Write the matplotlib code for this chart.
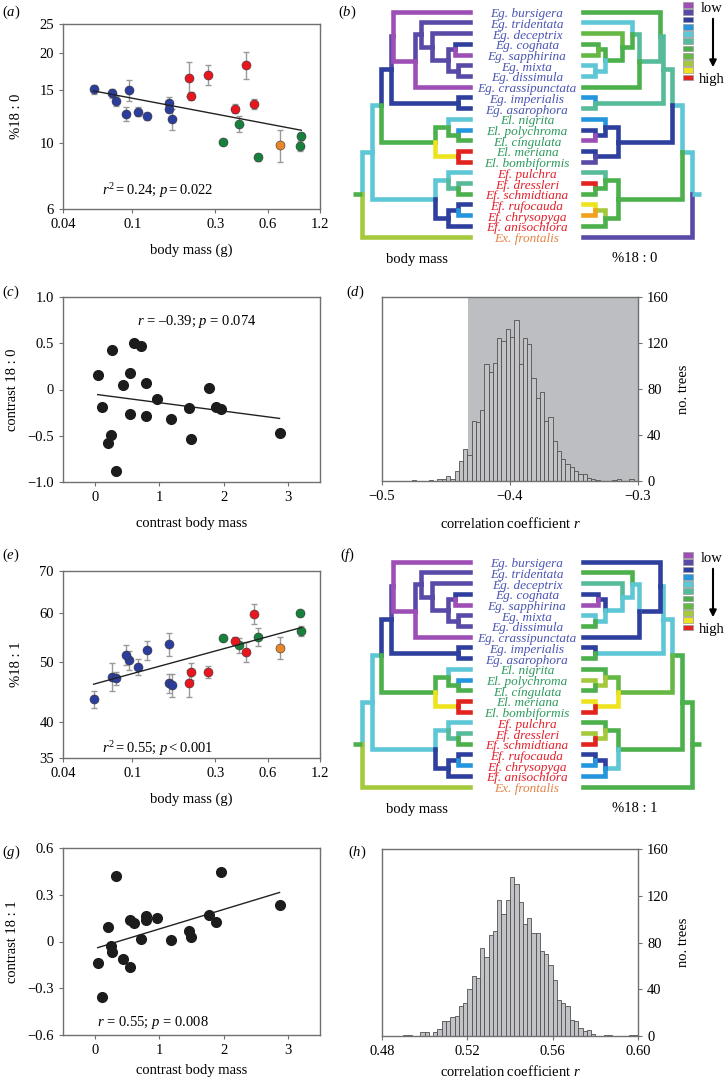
import numpy as np
import matplotlib
matplotlib.use('Agg')
import matplotlib.pyplot as plt
from matplotlib.ticker import NullLocator
from matplotlib.patches import Rectangle

plt.rcParams['font.family'] = ['Liberation Serif', 'DejaVu Serif']
plt.rcParams['mathtext.fontset'] = 'custom'
plt.rcParams['mathtext.rm'] = 'Liberation Serif'
plt.rcParams['mathtext.it'] = 'Liberation Serif:italic'
plt.rcParams['font.size'] = 10.5

# ---------------- data ----------------
groups = ['Eg'] * 10 + ['El'] * 5 + ['Ef'] * 6 + ['Ex']
body_mass = [0.060, 0.0766, 0.0811, 0.0960, 0.0918, 0.1086, 0.1208, 0.163, 0.162, 0.1686,
             0.332, 0.412, 0.525, 0.937, 0.920,
             0.211, 0.218, 0.274, 0.450, 0.389, 0.500,
             0.706]
pct_180 = [15.1, 14.65, 13.8, 15.0, 12.5, 12.7, 12.25, 13.6, 12.95, 12.0,
           10.07, 11.6, 8.95, 10.5, 9.77,
           16.5, 14.4, 16.9, 18.2, 13.0, 13.5,
           9.8]
err_180 = [0.5, 0.55, 0.5, 1.2, 0.7, 0.45, 0.35, 0.6, 0.3, 1.0,
           0.15, 0.7, 0.25, 0.3, 0.4,
           2.1, 0.45, 1.3, 1.9, 0.45, 0.55,
           1.2]
pct_181 = [43.5, 47.3, 47.0, 50.3, 51.3, 49.1, 52.2, 53.4, 46.2, 45.8,
           54.7, 53.2, 54.9, 56.1, 59.8,
           46.2, 48.2, 48.2, 51.9, 54.1, 59.7,
           52.7]
err_181 = [1.4, 2.5, 1.2, 1.8, 1.9, 1.5, 1.8, 2.3, 1.6, 1.9,
           0.5, 1.5, 1.8, 1.0, 0.5,
           2.3, 1.5, 1.1, 2.0, 0.8, 2.2,
           2.1]
group_colors = {'Eg': '#2c3d9c', 'El': '#17803d', 'Ef': '#e8171f', 'Ex': '#e8872a'}

contrast_mass = [0.04, 0.10, 0.26, 0.24, 0.20, 0.32, 0.44, 0.55, 0.54, 0.60, 0.72,
                 0.79, 0.79, 0.97, 1.18, 1.46, 1.49, 1.78, 1.88, 1.96, 2.87]
contrast_180 = [0.153, -0.19, 0.43, -0.49, -0.58, -0.885, 0.049, 0.178, -0.26, 0.503, 0.474,
                0.07, -0.283, -0.10, -0.32, -0.196, -0.53, 0.02, -0.19, -0.214, -0.467]
contrast_181 = [-0.135, -0.354, -0.066, -0.026, 0.09, 0.422, -0.114, -0.165, 0.139, 0.118, 0.015,
                0.165, 0.139, 0.154, 0.011, 0.069, 0.028, 0.171, 0.122, 0.444, 0.236]

# correlation coefficients over trees (60 bins each)
r180_range = (-0.5, -0.3)
r180_counts = [0, 0, 0, 0, 0, 0, 0, 1, 0, 0, 0, 1, 0, 2, 2, 4, 2, 9, 17, 28,
               23, 52, 51, 62, 102, 95, 103, 124, 122, 132, 125, 140, 102, 124, 119, 90, 72, 77, 52, 56,
               35, 26, 19, 15, 12, 9, 6, 6, 3, 2, 1, 0, 0, 0, 1, 2, 0, 0, 2, 0]
r180_shade = -0.4325
r181_range = (0.48, 0.60)
r181_counts = [0, 0, 0, 0, 0, 1, 1, 0, 0, 3, 3, 0, 3, 6, 13, 13, 16, 17, 26, 28,
               40, 51, 50, 75, 68, 86, 90, 116, 104, 116, 136, 130, 115, 96, 101, 88, 88, 73, 70, 61,
               48, 31, 28, 26, 14, 13, 7, 4, 5, 2, 0, 0, 1, 1, 0, 0, 0, 0, 1, 1]

# phylogeny
tips = ['Eg. bursigera', 'Eg. tridentata', 'Eg. deceptrix', 'Eg. cognata', 'Eg. sapphirina',
        'Eg. mixta', 'Eg. dissimula', 'Eg. crassipunctata', 'Eg. imperialis', 'Eg. asarophora',
        'El. nigrita', 'El. polychroma', 'El. cingulata', 'El. meriana', 'El. bombiformis',
        'Ef. pulchra', 'Ef. dressleri', 'Ef. schmidtiana', 'Ef. rufocauda', 'Ef. chrysopyga',
        'Ef. anisochlora', 'Ex. frontalis']
label_colors = {'Eg': '#4a55b3', 'El': '#2c9a5c', 'Ef': '#e2202b', 'Ex': '#e58246'}
# node: (child, child, depth from root)
nodes = {
    'root': ('ingroup', 'Ex. frontalis', 0.0),
    'ingroup': ('EgEl', 'Ef', 0.09),
    'EgEl': ('Eg', 'El', 0.18),
    'Eg': ('EgA', 'EgI', 0.265),
    'EgA': ('Eg. bursigera', 'EgB', 0.29),
    'EgB': ('EgC', 'Eg. crassipunctata', 0.49),
    'EgC': ('Eg. tridentata', 'EgD', 0.55),
    'EgD': ('Eg. deceptrix', 'EgE', 0.645),
    'EgE': ('EgF', 'EgG', 0.80),
    'EgF': ('Eg. cognata', 'Eg. sapphirina', 0.86),
    'EgG': ('Eg. mixta', 'Eg. dissimula', 0.89),
    'EgI': ('Eg. imperialis', 'Eg. asarophora', 0.89),
    'El': ('ElA', 'ElC', 0.676),
    'ElA': ('El. nigrita', 'ElB', 0.80),
    'ElB': ('El. polychroma', 'El. cingulata', 0.89),
    'ElC': ('El. meriana', 'El. bombiformis', 0.89),
    'Ef': ('EfA', 'EfC', 0.676),
    'EfA': ('Ef. pulchra', 'EfB', 0.80),
    'EfB': ('Ef. dressleri', 'Ef. schmidtiana', 0.89),
    'EfC': ('EfD', 'Ef. anisochlora', 0.80),
    'EfD': ('Ef. rufocauda', 'Ef. chrysopyga', 0.89),
}
palette = ['#9d4fb5', '#5a4aa8', '#2e3f9e', '#2596de', '#5ec7d6', '#56bb9a',
           '#4cb04c', '#66b845', '#a5c93d', '#eee31f', '#e2231f', '#f0a11e']
mass_colors = {
    'stub': 6, 'Ex. frontalis': 8, 'ingroup': 4, 'EgEl': 4, 'Ef': 4, 'Eg': 2, 'El': 6,
    'EgA': 1, 'Eg. bursigera': 0, 'EgB': 0, 'Eg. crassipunctata': 0, 'EgC': 1, 'Eg. tridentata': 1,
    'EgD': 1, 'Eg. deceptrix': 1, 'EgE': 1, 'EgF': 1, 'Eg. cognata': 2, 'Eg. sapphirina': 0,
    'EgG': 1, 'Eg. mixta': 1, 'Eg. dissimula': 1, 'EgI': 2, 'Eg. imperialis': 2, 'Eg. asarophora': 2,
    'ElA': 6, 'El. nigrita': 4, 'ElB': 6, 'El. polychroma': 3, 'El. cingulata': 6,
    'ElC': 9, 'El. meriana': 10, 'El. bombiformis': 10,
    'EfA': 4, 'Ef. pulchra': 4, 'EfB': 5, 'Ef. dressleri': 5, 'Ef. schmidtiana': 6,
    'EfC': 2, 'EfD': 2, 'Ef. rufocauda': 2, 'Ef. chrysopyga': 3, 'Ef. anisochlora': 2,
}
c180_colors = {
    'stub': 4, 'Ex. frontalis': 1, 'ingroup': 4, 'EgEl': 4, 'Ef': 6, 'Eg': 5, 'El': 2,
    'EgA': 5, 'Eg. bursigera': 6, 'EgB': 5, 'Eg. crassipunctata': 6, 'EgC': 5, 'Eg. tridentata': 4,
    'EgD': 6, 'Eg. deceptrix': 7, 'EgE': 6, 'EgF': 6, 'Eg. cognata': 6, 'Eg. sapphirina': 7,
    'EgG': 4, 'Eg. mixta': 4, 'Eg. dissimula': 4, 'EgI': 5, 'Eg. imperialis': 3, 'Eg. asarophora': 5,
    'ElA': 2, 'El. nigrita': 3, 'ElB': 2, 'El. polychroma': 2, 'El. cingulata': 0,
    'ElC': 2, 'El. meriana': 2, 'El. bombiformis': 1,
    'EfA': 6, 'Ef. pulchra': 5, 'EfB': 6, 'Ef. dressleri': 10, 'Ef. schmidtiana': 6,
    'EfC': 6, 'EfD': 8, 'Ef. rufocauda': 9, 'Ef. chrysopyga': 11, 'Ef. anisochlora': 6,
}
c181_colors = {
    'stub': 6, 'Ex. frontalis': 6, 'ingroup': 6, 'EgEl': 6, 'Ef': 6, 'Eg': 4, 'El': 7,
    'EgA': 4, 'Eg. bursigera': 2, 'EgB': 2, 'Eg. crassipunctata': 2, 'EgC': 4, 'Eg. tridentata': 6,
    'EgD': 4, 'Eg. deceptrix': 5, 'EgE': 4, 'EgF': 2, 'Eg. cognata': 2, 'Eg. sapphirina': 0,
    'EgG': 4, 'Eg. mixta': 4, 'Eg. dissimula': 6, 'EgI': 4, 'Eg. imperialis': 2, 'Eg. asarophora': 6,
    'ElA': 7, 'El. nigrita': 6, 'ElB': 8, 'El. polychroma': 8, 'El. cingulata': 6,
    'ElC': 9, 'El. meriana': 9, 'El. bombiformis': 10,
    'EfA': 6, 'Ef. pulchra': 6, 'EfB': 8, 'Ef. dressleri': 8, 'Ef. schmidtiana': 10,
    'EfC': 4, 'EfD': 2, 'Ef. rufocauda': 2, 'Ef. chrysopyga': 3, 'Ef. anisochlora': 3,
}

# ---------------- figure ----------------
W, H = 727, 1082
fig = plt.figure(figsize=(W / 100, H / 100), dpi=100)
SPINE = '#707070'


def add_ax(l, t, r, b):
    return fig.add_axes([l / W, 1 - b / H, (r - l) / W, (b - t) / H])


def style(ax):
    for s in ax.spines.values():
        s.set_color(SPINE)
        s.set_linewidth(1.0)
    ax.tick_params(direction='out', length=3, color=SPINE, labelsize=10.5)


def panel_label(x, y, letter):
    fig.text(x / W, 1 - y / H, r'$(%s)$' % letter, fontsize=10.5, va='center', ha='left')


def scatter_panel(ax, yvals, yerr, yticks, ylim, ylabel, stat, stat_y):
    style(ax)
    ax.set_xscale('log')
    ax.set_yscale('log')
    x = np.array(body_mass)
    y = np.array(yvals)
    for xi, yi, ei, g in zip(x, y, yerr, groups):
        ax.errorbar(xi, yi, yerr=ei, fmt='none', ecolor='#9a9a9a', elinewidth=1,
                    capsize=2, capthick=1, zorder=2)
        ax.plot(xi, yi, 'o', ms=6.5, color=group_colors[g], mec='#333333', mew=0.4, zorder=3)
    k, b = np.polyfit(np.log10(x), np.log10(y), 1)
    xs = np.array([x.min(), x.max()])
    ax.plot(xs, 10 ** (k * np.log10(xs) + b), color='#222222', lw=1, zorder=4)
    ax.set_xlim(0.04, 1.2)
    ax.set_ylim(*ylim)
    ax.set_xticks([0.04, 0.1, 0.3, 0.6, 1.2])
    ax.set_xticklabels(['0.04', '0.1', '0.3', '0.6', '1.2'])
    ax.set_yticks(yticks)
    ax.set_yticklabels([str(v) for v in yticks])
    ax.xaxis.set_minor_locator(NullLocator())
    ax.yaxis.set_minor_locator(NullLocator())
    ax.set_xlabel('body mass (g)', labelpad=9)
    ax.set_ylabel(ylabel, labelpad=12)
    ax.text(0.15, stat_y, stat, transform=ax.transAxes, fontsize=10.5, va='center')


def contrast_panel(ax, yvals, yticks, ylabels, ylim, ylabel, stat, sx, sy, ha, pad):
    style(ax)
    x = np.array(contrast_mass)
    y = np.array(yvals)
    ax.plot(x, y, 'o', ms=7, color='#1c1c1c', zorder=3)
    k, b = np.polyfit(x, y, 1)
    xs = np.array([x.min(), x.max()])
    ax.plot(xs, k * xs + b, color='#222222', lw=1, zorder=2)
    ax.set_xlim(-0.5, 3.5)
    ax.set_ylim(*ylim)
    ax.set_xticks([0, 1, 2, 3])
    ax.set_xticklabels(['0', '1', '2', '3'])
    ax.set_yticks(yticks)
    ax.set_yticklabels(ylabels)
    ax.set_xlabel('contrast body mass', labelpad=pad)
    ax.set_ylabel(ylabel, labelpad=6)
    ax.text(sx, sy, stat, transform=ax.transAxes, fontsize=10.5, va='center', ha=ha)


def hist_panel(ax, counts, rng, xticks, xlabels, pad, shade=None):
    style(ax)
    edges = np.linspace(rng[0], rng[1], len(counts) + 1)
    if shade is not None:
        ax.axvspan(shade, rng[1], color='#bdbec1', zorder=0, lw=0)
    ax.bar(edges[:-1], counts, width=edges[1] - edges[0], align='edge',
           color='#c2c3c6', edgecolor='#505050', linewidth=0.6, zorder=2)
    ax.set_xlim(*rng)
    ax.set_ylim(0, 160)
    ax.set_xticks(xticks)
    ax.set_xticklabels(xlabels)
    ax.set_yticks([0, 40, 80, 120, 160])
    ax.yaxis.tick_right()
    ax.yaxis.set_label_position('right')
    ax.set_ylabel('no. trees', labelpad=6)
    ax.set_xlabel('correlation coefficient $r$', labelpad=pad)


def node_y(name, tip_y):
    if name in nodes:
        a, b, _ = nodes[name]
        return 0.5 * (node_y(a, tip_y) + node_y(b, tip_y))
    return tip_y[name]


def node_d(name):
    return nodes[name][2] if name in nodes else 1.0


def draw_tree(ax, cols, x_root, x_tip):
    tip_y = {t: 11.7 + i * 10.71 for i, t in enumerate(tips)}

    def px(d):
        return x_root + d * (x_tip - x_root)

    for parent, (a, b, d) in nodes.items():
        py = node_y(parent, tip_y)
        for child in (a, b):
            cy = node_y(child, tip_y)
            ax.plot([px(d), px(d), px(node_d(child))], [py, cy, cy],
                    color=palette[cols[child]], lw=3.3, solid_capstyle='projecting',
                    solid_joinstyle='miter', zorder=2)
    ry = node_y('root', tip_y)
    stub = -9 if x_tip > x_root else 9
    ax.plot([x_root + stub, x_root], [ry, ry], color=palette[cols['stub']], lw=3.3,
            solid_capstyle='butt', zorder=2)


def tree_panel(top, right_cols, right_label):
    ax = add_ax(340, top, 727, top + 275)
    ax.set_xlim(340, 727)
    ax.set_ylim(275, 0)
    ax.axis('off')
    draw_tree(ax, mass_colors, 362, 470)
    draw_tree(ax, right_cols, 692, 583)
    for i, t in enumerate(tips):
        ax.text(527, 11.7 + i * 10.71 + 2.5, t, ha='center', va='center', fontsize=9.5,
                style='italic', color=label_colors[t[:2]])
    ax.text(417, 259, 'body mass', ha='center', va='center', fontsize=10.5)
    ax.text(635, 259, right_label, ha='center', va='center', fontsize=10.5)
    for k in range(11):
        yc = 5 + k * 7.25
        ax.add_patch(Rectangle((683, yc - 2.8), 10, 5.6, facecolor=palette[k],
                               edgecolor='#999999', lw=0.5, zorder=3))
    ax.text(712, 8, 'low', ha='center', va='center', fontsize=10.5)
    ax.text(712, 80, 'high', ha='center', va='center', fontsize=10.5)
    ax.annotate('', xy=(713, 70), xytext=(713, 16),
                arrowprops=dict(arrowstyle='-|>', color='black', lw=1.5, mutation_scale=10))


# (a)
ax_a = add_ax(63, 24, 320, 209)
scatter_panel(ax_a, pct_180, err_180, [6, 10, 15, 20, 25], (6, 25), '%18 : 0',
              r'$r^2 = 0.24$; $p = 0.022$', 0.1)
# (b)
tree_panel(0, c180_colors, '%18 : 0')
# (c)
ax_c = add_ax(63, 297, 320, 482)
contrast_panel(ax_c, contrast_180, [-1, -0.5, 0, 0.5, 1], ['\u22121.0', '\u22120.5', '0', '0.5', '1.0'],
               (-1, 1), 'contrast 18 : 0', '$r$ = \u20130.39; $p$ = 0.074', 0.52, 0.87, 'center', 9)
# (d)
ax_d = add_ax(382, 297, 638, 481)
hist_panel(ax_d, r180_counts, r180_range, [-0.5, -0.4, -0.3],
           ['\u22120.5', '\u22120.4', '\u22120.3'], 9, shade=r180_shade)
# (e)
ax_e = add_ax(63, 571, 320, 758)
scatter_panel(ax_e, pct_181, err_181, [35, 40, 50, 60, 70], (35, 70), '%18 : 1',
              r'$r^2 = 0.55$; $p < 0.001$', 0.05)
# (f)
tree_panel(550, c181_colors, '%18 : 1')
# (g)
ax_g = add_ax(63, 848, 320, 1035)
contrast_panel(ax_g, contrast_181, [-0.6, -0.3, 0, 0.3, 0.6], ['\u22120.6', '\u22120.3', '0', '0.3', '0.6'],
               (-0.6, 0.6), 'contrast 18 : 1', '$r$ = 0.55; $p$ = 0.008', 0.35, 0.065, 'center', 5)
# (h)
ax_h = add_ax(382, 849, 638, 1036)
hist_panel(ax_h, r181_counts, r181_range, [0.48, 0.52, 0.56, 0.60],
           ['0.48', '0.52', '0.56', '0.60'], 4)

for x, y, letter in [(2, 12, 'a'), (338, 12, 'b'), (2, 292, 'c'), (346, 292, 'd'),
                     (2, 555, 'e'), (340, 555, 'f'), (2, 852, 'g'), (348, 852, 'h')]:
    panel_label(x, y, letter)

fig.savefig('out.png', dpi=100)
